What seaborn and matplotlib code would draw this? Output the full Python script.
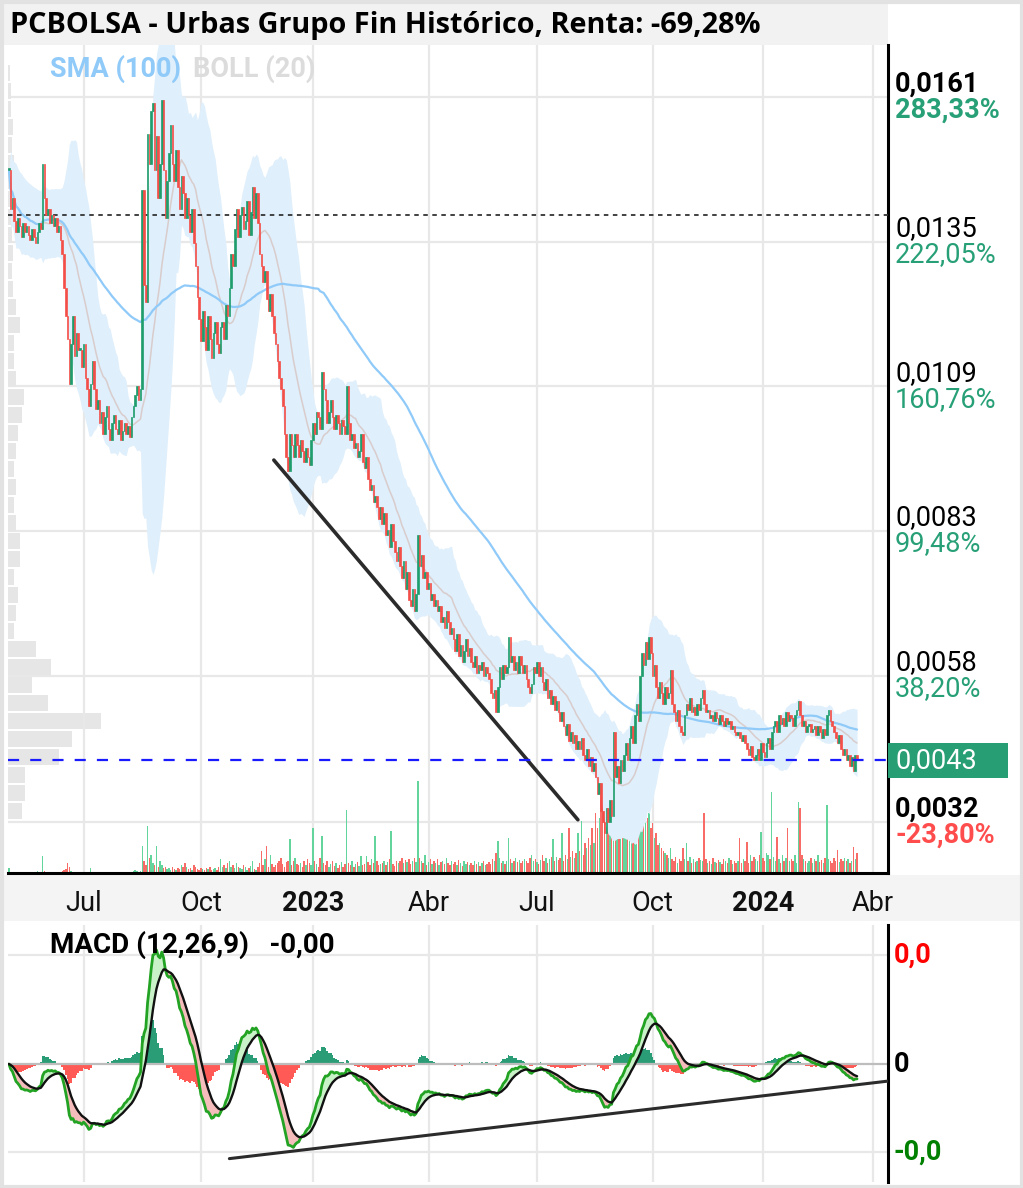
import numpy as np
import pandas as pd
import matplotlib
matplotlib.use("Agg")
import matplotlib.pyplot as plt
import matplotlib.transforms as mtrans
from matplotlib.patches import Rectangle
import seaborn as sns

# ---------------- data ----------------
# daily closes in units of 1e-5 EUR, May 2022 -> March 2024 (trading days)
close_e5 = [
    1480, 1410, 1430, 1390, 1370, 1395, 1380, 1360, 1385, 1370,
    1380, 1365, 1355, 1375, 1360, 1350, 1370, 1385, 1375, 1490,
    1430, 1400, 1410, 1385, 1400, 1380, 1395, 1370, 1380, 1355,
    1330, 1270, 1220, 1180, 1100, 1170, 1220, 1150, 1190, 1160,
    1160, 1130, 1170, 1110, 1090, 1060, 1100, 1140, 1090, 1055,
    1070, 1030, 1050, 1010, 1040, 1060, 1020, 1000, 1030, 1045,
    1020, 1010, 1035, 1000, 1015, 1030, 1010, 1025, 1005, 1040,
    1060, 1080, 1095, 1070, 1090, 1445, 1275, 1245, 1545, 1490,
    1585, 1600, 1480, 1540, 1430, 1490, 1605, 1480, 1395, 1460,
    1510, 1560, 1490, 1460, 1515, 1450, 1410, 1470, 1440, 1395,
    1430, 1400, 1370, 1410, 1350, 1310, 1255, 1215, 1175, 1230,
    1200, 1160, 1220, 1180, 1145, 1190, 1210, 1170, 1155, 1200,
    1210, 1180, 1240, 1220, 1270, 1330, 1310, 1375, 1410, 1360,
    1400, 1415, 1375, 1390, 1425, 1365, 1405, 1450, 1395, 1440,
    1385, 1330, 1310, 1280, 1300, 1250, 1230, 1260, 1220, 1190,
    1170, 1140, 1110, 1090, 1060, 1010, 970, 945, 1010, 990,
    970, 1010, 990, 970, 1000, 980, 960, 985, 970, 955,
    1000, 1030, 1010, 1050, 1040, 1020, 1120, 1090, 1070, 1030,
    1050, 1070, 1040, 1020, 1045, 1030, 1010, 1035, 1025, 1010,
    1095, 1030, 1000, 1010, 985, 995, 970, 980, 1010, 960,
    950, 970, 930, 910, 920, 890, 900, 880, 860, 880,
    850, 870, 830, 840, 810, 850, 820, 800, 785, 810,
    775, 755, 785, 735, 765, 715, 705, 735, 695, 725,
    830, 775, 795, 755, 765, 735, 745, 715, 725, 705,
    715, 695, 705, 675, 685, 665, 695, 675, 655, 665,
    645, 625, 655, 615, 635, 605, 625, 645, 615, 630,
    605, 595, 615, 585, 600, 590, 605, 580, 595, 585,
    575, 550, 540, 555, 515, 560, 595, 575, 600, 585,
    595, 650, 605, 615, 590, 605, 585, 615, 600, 585,
    600, 575, 560, 550, 565, 595, 585, 605, 580, 595,
    570, 555, 575, 540, 555, 530, 545, 520, 535, 515,
    500, 515, 490, 475, 495, 465, 480, 460, 475, 450,
    465, 450, 470, 440, 430, 450, 420, 435, 410, 425,
    400, 370, 390, 340, 320, 300, 345, 320, 360, 330,
    480, 400, 420, 390, 430, 410, 440, 460, 430, 470,
    490, 460, 510, 530, 500, 580, 620, 600, 640, 610,
    650, 620, 580, 600, 560, 540, 570, 550, 530, 560,
    540, 550, 590, 530, 515, 500, 520, 490, 480, 475,
    510, 530, 520, 540, 515, 525, 510, 530, 520, 540,
    555, 530, 515, 520, 505, 510, 500, 515, 505, 495,
    510, 500, 490, 505, 495, 500, 485, 490, 480, 475,
    480, 470, 465, 475, 460, 450, 440, 455, 435, 430,
    440, 450, 430, 460, 445, 435, 460, 470, 450, 480,
    490, 500, 480, 510, 495, 505, 490, 515, 500, 510,
    505, 490, 510, 520, 535, 510, 490, 500, 480, 490,
    495, 480, 485, 490, 475, 490, 480, 470, 485, 475,
    510, 520, 500, 490, 480, 470, 460, 475, 450, 440,
    450, 430, 440, 420, 435, 410, 440, 430,
]

# daily traded volume (relative units)
volume = [
    5, 1, 1, 1, 1, 1, 1, 1, 1, 1,
    1, 1, 1, 1, 1, 1, 2, 1, 1, 17,
    2, 1, 1, 1, 1, 1, 1, 1, 1, 1,
    2, 3, 4, 10, 6, 2, 1, 1, 1, 1,
    1, 1, 1, 1, 1, 1, 5, 1, 1, 1,
    1, 1, 1, 1, 1, 1, 1, 1, 1, 1,
    1, 1, 1, 1, 1, 1, 1, 1, 1, 1,
    2, 3, 2, 1, 2, 27, 12, 8, 47, 15,
    18, 10, 8, 27, 6, 12, 8, 5, 6, 4,
    5, 3, 6, 4, 3, 5, 4, 8, 6, 10,
    6, 4, 5, 3, 8, 6, 4, 3, 5, 4,
    3, 5, 4, 6, 3, 4, 5, 3, 6, 14,
    6, 8, 5, 10, 12, 6, 8, 5, 10, 6,
    5, 4, 8, 6, 3, 5, 7, 12, 4, 3,
    6, 10, 22, 8, 14, 27, 6, 18, 9, 6,
    8, 10, 12, 15, 9, 6, 11, 12, 34, 8,
    12, 15, 9, 8, 10, 6, 12, 8, 14, 10,
    8, 45, 12, 9, 6, 15, 37, 10, 8, 12,
    6, 9, 12, 7, 10, 5, 8, 11, 6, 9,
    63, 10, 8, 12, 6, 9, 11, 7, 17, 8,
    9, 17, 11, 8, 14, 10, 37, 12, 8, 9,
    10, 12, 8, 11, 14, 42, 9, 7, 12, 10,
    12, 15, 10, 13, 11, 14, 9, 12, 15, 11,
    92, 15, 12, 10, 18, 8, 11, 14, 9, 12,
    10, 14, 8, 11, 12, 9, 15, 10, 8, 12,
    9, 11, 8, 13, 10, 7, 12, 9, 11, 8,
    10, 8, 12, 9, 11, 7, 10, 12, 8, 9,
    11, 9, 14, 12, 20, 32, 15, 10, 12, 9,
    12, 35, 14, 10, 12, 15, 11, 13, 10, 12,
    14, 12, 10, 15, 18, 12, 14, 11, 9, 13,
    18, 12, 15, 10, 14, 16, 34, 12, 16, 13,
    15, 40, 12, 18, 14, 45, 16, 22, 15, 20,
    40, 22, 52, 18, 30, 25, 35, 28, 45, 30,
    60, 45, 55, 80, 70, 85, 90, 60, 75, 85,
    100, 60, 75, 50, 85, 65, 80, 70, 55, 110,
    70, 85, 60, 95, 75, 80, 90, 65, 70, 55,
    60, 45, 50, 35, 40, 28, 30, 25, 22, 20,
    18, 15, 25, 14, 12, 16, 10, 14, 12, 25,
    14, 30, 12, 16, 10, 14, 11, 12, 15, 13,
    12, 60, 14, 10, 12, 9, 15, 11, 10, 13,
    11, 9, 14, 12, 10, 15, 13, 9, 12, 10,
    12, 35, 10, 14, 12, 31, 10, 18, 12, 16,
    14, 12, 18, 41, 15, 12, 20, 18, 14, 81,
    16, 12, 36, 14, 10, 18, 12, 15, 45, 12,
    14, 12, 18, 10, 71, 65, 18, 14, 12, 10,
    12, 15, 10, 14, 12, 18, 11, 13, 10, 15,
    68, 14, 12, 10, 15, 12, 23, 11, 14, 12,
    15, 12, 14, 10, 12, 26, 14, 20,
]

# volume-by-price profile (bottom bin first)
profile_low = 0.00324
profile_step = 0.00032
profile = [14, 17, 17, 51, 64, 93, 40, 24, 43, 28,
           6, 8, 10, 6, 12, 12, 8, 6, 8, 6,
           8, 10, 14, 16, 8, 6, 6, 12, 8, 5,
           4, 5, 4, 6, 8, 10, 6, 4, 5, 3, 3, 2]

month_days = [42, 108, 171, 236, 297, 362, 424, 486]
month_labels = ["Jul", "Oct", "2023", "Abr", "Jul", "Oct", "2024", "Abr"]
year_labels = ["2023", "2024"]

base_price = 0.0042
grid_pct = [283.33, 222.05, 160.76, 99.48, 38.20, -23.80]
grid_price_labels = ["0,0161", "0,0135", "0,0109", "0,0083", "0,0058", "0,0032"]
grid_pct_labels = ["283,33%", "222,05%", "160,76%", "99,48%", "38,20%", "-23,80%"]
start_price = 0.0140
last_label = "0,0043"

trend_days = [149, 320]
trend_prices = [0.00964, 0.00324]
macd_trend_days = [124, 494.4]
macd_trend_rel = [-0.83, -0.15]   # relative to MACD peak

title = "PCBOLSA - Urbas Grupo Fin Histórico, Renta: -69,28%"

# ---------------- style ----------------
sns.set_style("white")
plt.rcParams['font.family'] = ['Roboto', 'DejaVu Sans']

UP, DOWN = "#1f9d6c", "#f44e49"
VUP, VDOWN = "#64d49d", "#f86c68"
GREEN_TXT, RED_TXT = "#27a077", "#ff4d4d"
GRID = "#e8e8e8"

# ---------------- derived series ----------------
close = np.array(close_e5, float) * 1e-5
N = len(close)
days = np.arange(N)
opn = np.r_[close[0], close[:-1]]
up = close >= opn
vol = np.array(volume, float)
s = pd.Series(close)
sma100 = s.rolling(100, min_periods=1).mean()
mid20 = s.rolling(20, min_periods=1).mean()
sd20 = s.rolling(20, min_periods=1).std(ddof=0)
upper = mid20 + 2 * sd20
lower = mid20 - 2 * sd20
ema12 = s.ewm(span=12, adjust=False).mean()
ema26 = s.ewm(span=26, adjust=False).mean()
macd = ema12 - ema26
signal = macd.ewm(span=9, adjust=False).mean()
hist = macd - signal
grid_prices = [base_price * (1 + p / 100) for p in grid_pct]

# ---------------- figure ----------------
W, H = 1023, 1188
fig = plt.figure(figsize=(W / 100, H / 100), dpi=100)
fig.patch.set_facecolor("white")


def box(x0, y0, x1, y1):
    return [x0 / W, 1 - y1 / H, (x1 - x0) / W, (y1 - y0) / H]


fig.patches.extend([
    Rectangle((0, 1 - 45 / H), 888 / W, 45 / H, transform=fig.transFigure,
              fc="#f2f2f2", ec="none", zorder=-5),
    Rectangle((0, 1 - 921 / H), 1, 46 / H, transform=fig.transFigure,
              fc="#f4f4f4", ec="none", zorder=-5),
    Rectangle((1.5 / W, 1.5 / H), (W - 3) / W, (H - 3) / H, transform=fig.transFigure,
              fill=False, ec="#e2e2e2", lw=3, zorder=10),
])

# main price panel
ax = fig.add_axes(box(8, 45, 888, 873))
axv = ax.twinx()
axp = ax.twiny()
axp.set_zorder(1)
axv.set_zorder(2)
ax.set_zorder(3)
ax.patch.set_visible(False)
axv.patch.set_visible(False)
axp.patch.set_facecolor("white")

ylo, yhi = 0.002293, 0.017025
ax.set_xlim(-0.5, 494.4)
ax.set_ylim(ylo, yhi)

# gridlines + profile (bottom layer)
for gp in grid_prices:
    axp.axhline(gp, color=GRID, lw=1.6, zorder=0)
centers = profile_low + profile_step * (np.arange(len(profile)) + 0.5)
axp.barh(centers, profile, height=profile_step * 0.9, color="#e6e6e6", lw=0, zorder=1)
axp.set_xlim(0, 880)

# vertical grid + volume
for d in month_days:
    axv.axvline(d, color=GRID, lw=1.6, zorder=0)
axv.bar(days, vol, width=0.8, color=np.where(up, VUP, VDOWN), lw=0, zorder=1)
axv.set_ylim(0, 828)

# bollinger, sma
ax.fill_between(days, lower, upper, color="#dfeffb", lw=0, zorder=1)
sns.lineplot(x=days, y=mid20.values, ax=ax, color="#d9cccc", lw=1.1, zorder=2)
sns.lineplot(x=days, y=sma100.values, ax=ax, color="#90caf9", lw=1.6, zorder=3)

# start price dotted
ax.axhline(start_price, color="#333333", lw=1.3, ls=(0, (2.5, 2.5)), zorder=4)

# candles
body = np.abs(close - opn)
body = np.maximum(body, 0.00004)
ccol = np.where(up, UP, DOWN)
ax.bar(days, body, bottom=np.minimum(close, opn), width=0.9,
       color=ccol, edgecolor=ccol, lw=0.5, zorder=5)

# trend line
ax.plot(trend_days, trend_prices, color="#2b2b2b", lw=2.6, zorder=6,
        solid_capstyle="round")

# last price line
last = close[-1]
ax.axhline(last, color="#1a1aff", lw=1.6, ls=(0, (5, 5)), zorder=6)

for a in (axp, axv):
    for sp in a.spines.values():
        sp.set_visible(False)
    a.set_xticks([])
    a.set_yticks([])
for k in ("left", "top"):
    ax.spines[k].set_visible(False)
for k in ("right", "bottom"):
    ax.spines[k].set_visible(True)
    ax.spines[k].set_color("black")
    ax.spines[k].set_linewidth(2.2)

ax.set_xticks(month_days)
ax.set_xticklabels(month_labels, fontsize=19.5, color="#111111")
for t in ax.get_xticklabels():
    if t.get_text() in year_labels:
        t.set_fontweight("bold")
ax.tick_params(axis="x", length=0, pad=12)
ax.tick_params(axis="y", length=0, labelleft=False, labelright=False)
ax.set_xlabel("")
ax.set_ylabel("")

# right-hand price labels
trans = mtrans.blended_transform_factory(ax.transAxes, ax.transData)
t_up = mtrans.offset_copy(trans, fig=fig, y=13, units="dots")
t_dn = mtrans.offset_copy(trans, fig=fig, y=-13, units="dots")
for i, (gp, pl, cl) in enumerate(zip(grid_prices, grid_price_labels, grid_pct_labels)):
    edge = i == 0 or i == len(grid_prices) - 1
    ax.text(1.008, gp, pl, transform=t_up, va="center", ha="left", fontsize=19.5,
            color="black", fontweight="bold" if edge else "normal", clip_on=False)
    pc = RED_TXT if cl.startswith("-") else GREEN_TXT
    ax.text(1.008, gp, cl, transform=t_dn, va="center", ha="left", fontsize=19.5,
            color=pc, fontweight="bold" if edge else "normal", clip_on=False)

hbox = 35 * (yhi - ylo) / 828
ax.add_patch(Rectangle((1.0, last - hbox / 2), 120 / 880, hbox, transform=trans,
                       fc="#279e74", ec="none", clip_on=False, zorder=7))
ax.text(1.008, last, last_label, transform=trans, va="center", ha="left",
        fontsize=19.5, color="white", clip_on=False, zorder=8)

# ---------------- MACD panel ----------------
axm = fig.add_axes(box(8, 925, 888, 1182))
axh = axm.twinx()
axh.set_zorder(1)
axm.set_zorder(2)
axm.patch.set_visible(False)
axh.patch.set_facecolor("white")
axm.set_xlim(-0.5, 494.4)

pk = macd.max()
sc = pk / 114.0
axm.set_ylim(-118 * sc, 139 * sc)
hm = np.abs(hist).max()
sh = hm / 44.0
axh.set_ylim(-118 * sh, 139 * sh)

for d in month_days:
    axh.axvline(d, color=GRID, lw=1.6, zorder=0)
axh.axhline(109 * sh, color=GRID, lw=1.6, zorder=0)
axh.axhline(-88 * sh, color=GRID, lw=1.6, zorder=0)
axh.fill_between(days, 0, hist, where=hist >= 0, step="mid", color="#2a9d76", lw=0, zorder=1)
axh.fill_between(days, 0, hist, where=hist < 0, step="mid", color="#ff5a55", lw=0, zorder=1)
axh.axhline(0, color="#bdbdbd", lw=1.6, zorder=2)

axm.fill_between(days, macd, signal, where=macd >= signal, interpolate=True,
                 color="#c9f2c9", lw=0, zorder=2)
axm.fill_between(days, macd, signal, where=macd < signal, interpolate=True,
                 color="#f5bcbc", lw=0, zorder=2)
sns.lineplot(x=days, y=macd.values, ax=axm, color="#23a323", lw=2.0, zorder=3)
sns.lineplot(x=days, y=signal.values, ax=axm, color="#111111", lw=1.7, zorder=4)
axm.plot(macd_trend_days, np.array(macd_trend_rel) * pk, color="#2b2b2b", lw=2.2, zorder=5)

for a in (axm, axh):
    for sp in a.spines.values():
        sp.set_visible(False)
    a.set_xticks([])
    a.set_yticks([])
axm.spines["right"].set_visible(True)
axm.spines["right"].set_color("black")
axm.spines["right"].set_linewidth(2.2)
axm.set_xlabel("")
axm.set_ylabel("")

transm = mtrans.blended_transform_factory(axm.transAxes, axm.transData)
axm.text(1.006, 109 * sc, "0,0", transform=transm, va="center", ha="left",
         fontsize=19.5, fontweight="bold", color="#ff0000", clip_on=False)
axm.text(1.006, 0, "0", transform=transm, va="center", ha="left",
         fontsize=19.5, fontweight="bold", color="black", clip_on=False)
axm.text(1.006, -88 * sc, "-0,0", transform=transm, va="center", ha="left",
         fontsize=19.5, fontweight="bold", color="#008000", clip_on=False)

# ---------------- texts ----------------
fig.text(10 / W, 1 - 25 / H, title, fontsize=20.8, fontweight="bold", color="black",
         va="center", ha="left", family=["Open Sans", "DejaVu Sans"])
fig.text(50 / W, 1 - 69 / H, "SMA (100)", fontsize=19.5, fontweight="bold",
         color="#90caf9", va="center", ha="left")
fig.text(193 / W, 1 - 69 / H, "BOLL (20)", fontsize=19.5, fontweight="bold",
         color="#dcdcdc", va="center", ha="left")
fig.text(50 / W, 1 - 945 / H, "MACD (12,26,9)   -0,00", fontsize=20, fontweight="bold",
         color="black", va="center", ha="left")

fig.savefig("out.png", dpi=100, facecolor="white")
